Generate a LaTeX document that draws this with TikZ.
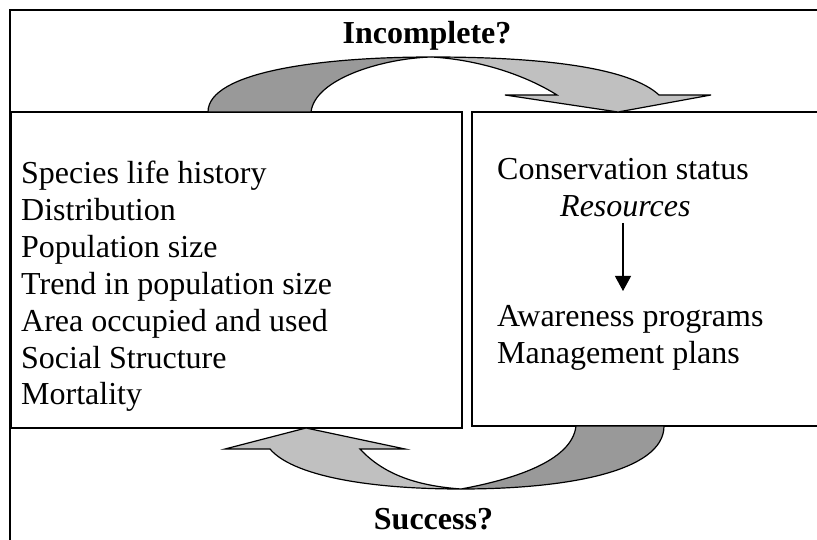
\documentclass[tikz,border=0pt]{standalone}
\usepackage{fontspec}
\setmainfont{Liberation Serif}
\usetikzlibrary{arrows.meta}
\definecolor{bandDark}{HTML}{999999}
\definecolor{bandLight}{HTML}{C0C0C0}
\tikzset{
  panel/.style={draw=black, line width=1.3pt, inner sep=0pt, outer sep=0pt, anchor=north west},
  body/.style={anchor=base west, inner sep=0pt, font=\fontsize{32}{37}\selectfont},
  title/.style={anchor=base, inner sep=0pt, font=\fontsize{32}{37}\selectfont\bfseries},
  band/.style={draw=black, line width=1.2pt, line join=miter},
  flow/.style={line width=1.1pt, -{Triangle[width=16pt,length=15pt]}}
}
\begin{document}
\begin{tikzpicture}[x=1pt,y=-1pt]
\useasboundingbox (0,0) rectangle (817,540);
\clip (0,0) rectangle (817,540);
\fill[white] (0,0) rectangle (817,540);

% outer frame (runs past the right and lower edges)
\draw[line width=1.3pt] (10,10) rectangle (900,620);

% the two panels
\node[panel, minimum width=451pt, minimum height=316pt] (left) at (11,112) {};
\node[panel, minimum width=420pt, minimum height=314pt] (right) at (472,112) {};

% upper curved arrow: dark rising half, light falling half with head
\filldraw[band, fill=bandDark]
  (208,112) .. controls (208,72) and (320,57) .. (432,57)
  .. controls (385,58) and (315,78) .. (311,112) -- cycle;
\filldraw[band, fill=bandLight]
  (432,57) .. controls (545,57) and (630,68) .. (659,95)
  -- (711,95) -- (618,112) -- (505,95) -- (557,95)
  .. controls (525,75) and (480,60) .. (432,57) -- cycle;

% lower curved arrow: dark falling half, light rising half with head
\filldraw[band, fill=bandDark]
  (664,426) .. controls (664,472) and (565,489) .. (461,489)
  .. controls (510,480) and (572,462) .. (576,426) -- cycle;
\filldraw[band, fill=bandLight]
  (461,489) .. controls (365,489) and (292,475) .. (270,449)
  -- (225,449) -- (306,428) -- (405,449) -- (360,449)
  .. controls (385,476) and (420,486) .. (461,489) -- cycle;

% headings
\node[title] (incomplete) at (427,44) {Incomplete?};
\node[title] (success) at (433.5,529) {Success?};

% left panel entries
\foreach \t [count=\i] in {Species life history, Distribution, Population size,
  Trend in population size, Area occupied and used, Social Structure, Mortality}
  \node[body] (item\i) at (21,{184+36.8*(\i-1)}) {\t};

% right panel entries
\node[body] (status) at (497,180) {Conservation status};
\node[body] (res) at (560,217) {\itshape Resources};
\node[body] (aware) at (497,326) {Awareness programs};
\node[body] (mgmt) at (497,363) {Management plans};

\coordinate (resfoot) at (623,223);
\coordinate (awaretop) at (623,291);
\draw[flow] (resfoot) -- (awaretop);
\end{tikzpicture}
\end{document}
